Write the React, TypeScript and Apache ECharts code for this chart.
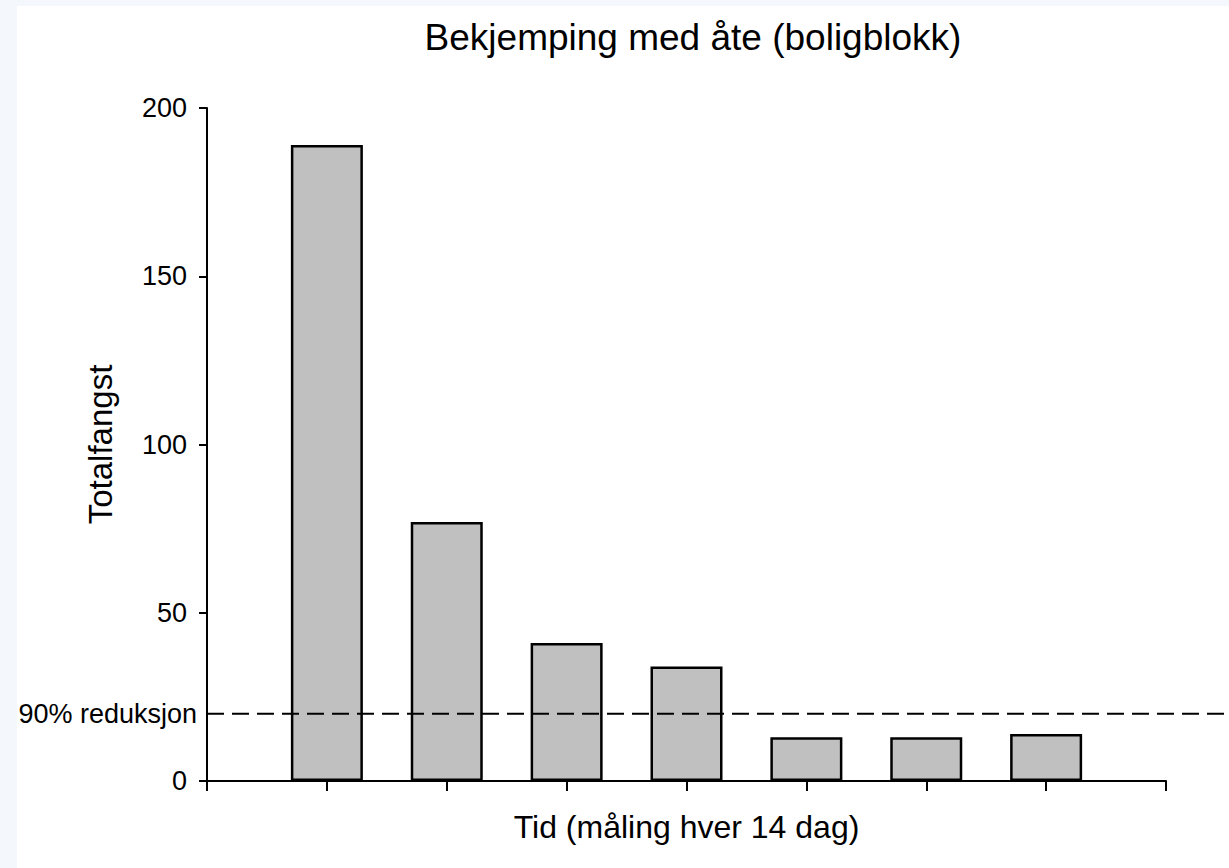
import React, { useEffect, useRef } from "react";
import * as echarts from "echarts";

const title = "Bekjemping med åte (boligblokk)";
const xName = "Tid (måling hver 14 dag)";
const yName = "Totalfangst";
const measurements = [1, 2, 3, 4, 5, 6, 7];
const catches = [189, 77, 41, 34, 13, 13, 14];
const yTicks = [0, 50, 100, 150, 200];
const reductionLevel = 20;
const reductionLineEnd = 8.5;
const reductionLabel = "90% reduksjon";

export default function App() {
  const ref = useRef<HTMLDivElement>(null);
  useEffect(() => {
    if (!ref.current) return;
    const chart = echarts.init(ref.current, undefined, { renderer: "svg" });
    const font = "'Liberation Sans', Arial, sans-serif";
    chart.setOption({
      animation: false,
      backgroundColor: "transparent",
      textStyle: { fontFamily: font, color: "#000" },
      title: {
        text: title,
        left: 688,
        textAlign: "center",
        top: 14,
        textStyle: { fontFamily: font, fontSize: 37, fontWeight: "normal", color: "#000" },
      },
      grid: { left: 207, right: 63, top: 108, bottom: 87, containLabel: false },
      xAxis: {
        type: "value",
        min: 0,
        max: measurements.length + 1,
        interval: 1,
        name: xName,
        nameLocation: "middle",
        nameGap: 30,
        nameTextStyle: { fontFamily: font, fontSize: 32, color: "#000", verticalAlign: "top" },
        axisLine: { show: true, onZero: false, lineStyle: { color: "#000", width: 2 } },
        axisTick: { show: true, length: 10, lineStyle: { color: "#000", width: 2 } },
        axisLabel: { show: false },
        splitLine: { show: false },
      },
      yAxis: {
        type: "value",
        min: yTicks[0],
        max: yTicks[yTicks.length - 1],
        interval: yTicks[1] - yTicks[0],
        name: yName,
        nameLocation: "middle",
        nameGap: 90,
        nameRotate: 90,
        nameTextStyle: { fontFamily: font, fontSize: 33, color: "#000" },
        axisLine: { show: true, lineStyle: { color: "#000", width: 2 } },
        axisTick: { show: true, length: 8, lineStyle: { color: "#000", width: 2 } },
        axisLabel: { margin: 20, fontFamily: font, fontSize: 27, color: "#000" },
        splitLine: { show: false },
      },
      series: [
        {
          type: "bar",
          barWidth: 72,
          data: measurements.map((m, i) => [m, catches[i]]),
          itemStyle: { color: "#c0c0c0", borderColor: "#000", borderWidth: 2.5 },
        },
      ],
    });
    const p0 = chart.convertToPixel({ xAxisIndex: 0, yAxisIndex: 0 }, [0, reductionLevel]) as number[];
    const p1 = chart.convertToPixel({ xAxisIndex: 0, yAxisIndex: 0 }, [reductionLineEnd, reductionLevel]) as number[];
    chart.setOption({
      graphic: [
        {
          type: "line",
          z: 100,
          silent: true,
          shape: { x1: p0[0], y1: p0[1], x2: p1[0], y2: p1[1] },
          style: { stroke: "#000", lineWidth: 2, lineDash: [17, 8] },
        },
        {
          type: "text",
          z: 100,
          silent: true,
          x: p0[0] - 10,
          y: p0[1],
          style: {
            text: reductionLabel,
            fontFamily: font,
            fontSize: 27,
            fill: "#000",
            align: "right",
            verticalAlign: "middle",
          },
        },
      ],
    });
    return () => chart.dispose();
  }, []);
  return (
    <div style={{ position: "fixed", left: 0, top: 0, width: 1229, height: 868, background: "#f4f8fd" }}>
      <div style={{ position: "absolute", left: 17, top: 6, right: 0, bottom: 0, background: "#fff" }} />
      <div ref={ref} style={{ position: "absolute", left: 0, top: 0, width: 1229, height: 868 }} />
    </div>
  );
}
